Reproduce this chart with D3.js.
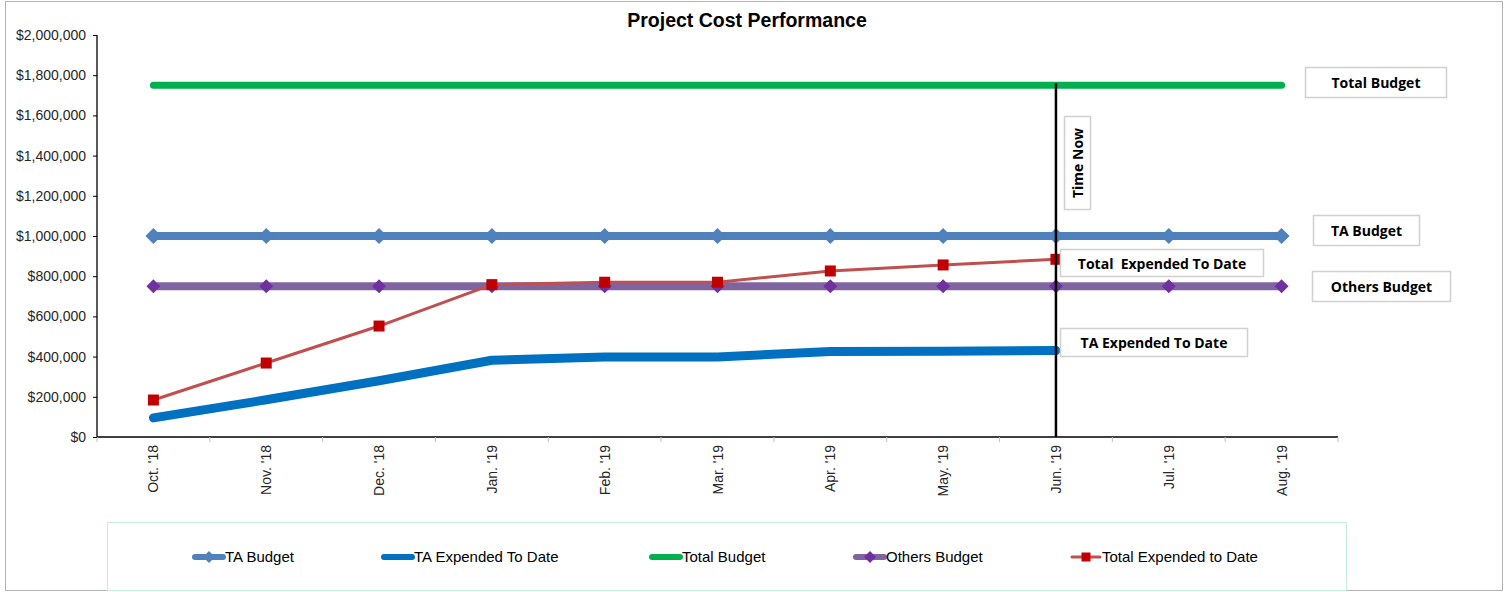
<!DOCTYPE html>
<meta charset="utf-8">
<style>
body { margin: 0; background: #fff; }
svg { font-family: "Liberation Sans", Arial, sans-serif; }
.axis text { font-size: 14px; fill: #262626; }
.axis--x .domain, .axis--y .domain { stroke: #000; stroke-width: 1.3; }
.note rect { fill: #fff; stroke: #d0d0d0; stroke-width: 1.5; }
.note text { font-family: "Open Sans", "Noto Sans", sans-serif; font-weight: bold; font-size: 14px; fill: #000; white-space: pre; }
.legend text { font-size: 15px; fill: #000; }
</style>
<svg width="1510" height="592"></svg>
<script src="https://d3js.org/d3.v7.min.js"></script>
<script>

var months = ["Oct. '18", "Nov. '18", "Dec. '18", "Jan. '19", "Feb. '19", "Mar. '19",
              "Apr. '19", "May. '19", "Jun. '19", "Jul. '19", "Aug. '19"];
var taBudget = [1000000, 1000000, 1000000, 1000000, 1000000, 1000000, 1000000, 1000000, 1000000, 1000000, 1000000];
var taExpended = [95000, 185000, 280000, 382000, 398000, 398000, 425000, 427000, 430000];
var totalBudget = [1750000, 1750000, 1750000, 1750000, 1750000, 1750000, 1750000, 1750000, 1750000, 1750000, 1750000];
var othersBudget = [750000, 750000, 750000, 750000, 750000, 750000, 750000, 750000, 750000, 750000, 750000];
var totalExpended = [184000, 368000, 552000, 758000, 770000, 770000, 826000, 856000, 884000];
var yTicks = [0, 200000, 400000, 600000, 800000, 1000000, 1200000, 1400000, 1600000, 1800000, 2000000];
var timeNow = "Jun. '19";

var svg = d3.select("svg");

// outer frame
svg.append("rect")
    .attr("x", 5.5).attr("y", 1.5).attr("width", 1497).attr("height", 589)
    .attr("fill", "none").attr("stroke", "#b4b4b4");

var margin = {top: 35, left: 97},
    width = 1241,
    height = 402;

var x = d3.scaleBand().domain(months).range([0, width]),
    y = d3.scaleLinear().domain([0, 2000000]).range([height, 0]);

var cx = function(d, i) { return x(months[i]) + x.bandwidth() / 2; };

var g = svg.append("g")
    .attr("transform", "translate(" + margin.left + "," + margin.top + ")");

svg.append("text")
    .attr("x", 747).attr("y", 27)
    .attr("text-anchor", "middle")
    .style("font-size", "19.5px").style("font-weight", "bold")
    .text("Project Cost Performance");

// x axis: ticks between categories
var xAxis = g.append("g")
    .attr("class", "axis axis--x")
    .attr("transform", "translate(0," + height + ")");
xAxis.append("path").attr("class", "domain").attr("d", "M0,0H" + width);
xAxis.selectAll(".tick")
    .data(d3.range(months.length + 1))
  .enter().append("line")
    .attr("stroke", "#bfbfbf")
    .attr("x1", function(i) { return i * x.step(); })
    .attr("x2", function(i) { return i * x.step(); })
    .attr("y1", 0).attr("y2", 5);
xAxis.selectAll(".lbl")
    .data(months)
  .enter().append("text")
    .attr("transform", function(d) { return "translate(" + (x(d) + x.bandwidth() / 2 + 5) + ",8) rotate(-90)"; })
    .attr("text-anchor", "end")
    .text(function(d) { return d; });

g.append("g")
    .attr("class", "axis axis--y")
    .call(d3.axisLeft(y).tickValues(yTicks).tickSize(4).tickPadding(7)
      .tickFormat(function(d) { return "$" + d3.format(",")(d); }))
    .call(function(a) { a.selectAll(".domain").attr("d", "M0,0V" + height); });

var line = d3.line()
    .x(cx)
    .y(function(d) { return y(d); });

function drawLine(data, color, w) {
  g.append("path")
      .datum(data)
      .attr("fill", "none")
      .attr("stroke", color)
      .attr("stroke-width", w)
      .attr("stroke-linecap", "round")
      .attr("stroke-linejoin", "round")
      .attr("d", line);
}

function diamond(r) {
  return "M0," + (-r) + "L" + r + ",0L0," + r + "L" + (-r) + ",0Z";
}

drawLine(totalBudget, "#00b050", 7);

drawLine(taBudget, "#4f81bd", 8);
g.selectAll(".taMark")
    .data(taBudget)
  .enter().append("path")
    .attr("transform", function(d, i) { return "translate(" + cx(d, i) + "," + y(d) + ")"; })
    .attr("d", diamond(8))
    .attr("fill", "#4f81bd");

drawLine(othersBudget, "#8064a2", 8);
g.selectAll(".othMark")
    .data(othersBudget)
  .enter().append("path")
    .attr("transform", function(d, i) { return "translate(" + cx(d, i) + "," + y(d) + ")"; })
    .attr("d", diamond(7))
    .attr("fill", "#7030a0");

drawLine(taExpended, "#0070c0", 9);

drawLine(totalExpended, "#c0504d", 3);
g.selectAll(".teMark")
    .data(totalExpended)
  .enter().append("rect")
    .attr("x", function(d, i) { return cx(d, i) - 5.5; })
    .attr("y", function(d) { return y(d) - 5.5; })
    .attr("width", 11).attr("height", 11)
    .attr("fill", "#c00000");

// time now line
var tx = x(timeNow) + x.bandwidth() / 2;
g.append("line")
    .attr("x1", tx).attr("x2", tx)
    .attr("y1", y(1760000)).attr("y2", height)
    .attr("stroke", "#000").attr("stroke-width", 2.5);

// annotation boxes
function note(x0, y0, w, h, label, rotate) {
  var n = svg.append("g").attr("class", "note");
  n.append("rect").attr("x", x0).attr("y", y0).attr("width", w).attr("height", h);
  var t = n.append("text")
      .attr("text-anchor", "middle")
      .attr("dominant-baseline", "central")
      .text(label);
  if (rotate) t.attr("transform", "translate(" + (x0 + w / 2) + "," + (y0 + h / 2) + ") rotate(-90)");
  else t.attr("x", x0 + w / 2).attr("y", y0 + h / 2);
}
note(1305.5, 67.5, 141, 30, "Total Budget");
note(1064.5, 116.5, 26, 93, "Time Now", true);
note(1313.5, 215.5, 106, 30, "TA Budget");
note(1060.5, 249.5, 203, 27, "Total  Expended To Date");
note(1312.5, 271.5, 138, 30, "Others Budget");
note(1060.5, 328.5, 187, 28, "TA Expended To Date");

// legend
var legend = svg.append("g").attr("class", "legend");
legend.append("rect")
    .attr("x", 107.5).attr("y", 522.5).attr("width", 1239).attr("height", 68)
    .attr("fill", "none").attr("stroke", "#c5ecdf");

var legendItems = [
  {name: "TA Budget", color: "#4f81bd", w: 6, mark: "diamond", mc: "#4f81bd", x: 193},
  {name: "TA Expended To Date", color: "#0070c0", w: 6, mark: null, x: 382},
  {name: "Total Budget", color: "#00b050", w: 6, mark: null, x: 650},
  {name: "Others Budget", color: "#8064a2", w: 6, mark: "diamond", mc: "#7030a0", x: 854},
  {name: "Total Expended to Date", color: "#c0504d", w: 3, mark: "square", mc: "#c00000", x: 1070}
];
var li = legend.selectAll(".item")
    .data(legendItems)
  .enter().append("g")
    .attr("transform", function(d) { return "translate(" + d.x + ",557)"; });
li.append("line")
    .attr("x1", 2).attr("x2", 30)
    .attr("stroke", function(d) { return d.color; })
    .attr("stroke-width", function(d) { return d.w; })
    .attr("stroke-linecap", "round");
li.filter(function(d) { return d.mark === "diamond"; })
  .append("path")
    .attr("transform", "translate(16,0)")
    .attr("d", diamond(6))
    .attr("fill", function(d) { return d.mc; });
li.filter(function(d) { return d.mark === "square"; })
  .append("rect")
    .attr("x", 11.5).attr("y", -4.5).attr("width", 9).attr("height", 9)
    .attr("fill", function(d) { return d.mc; });
li.append("text")
    .attr("x", 32).attr("dy", "0.35em")
    .text(function(d) { return d.name; });

</script>
